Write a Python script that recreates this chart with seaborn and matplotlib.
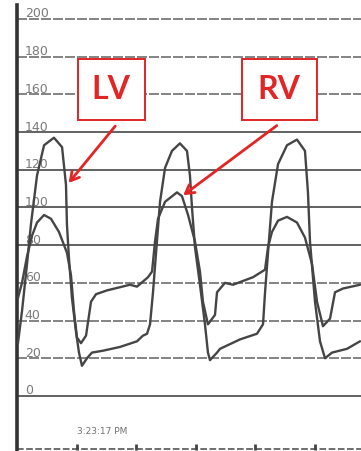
import matplotlib
matplotlib.use("Agg")
import matplotlib.pyplot as plt
import seaborn as sns
import pandas as pd
from matplotlib.patches import Rectangle

# pressure tracing values (time in s, pressure in mmHg)
lv_time = [0.008, 0.042, 0.084, 0.117, 0.168, 0.227, 0.310, 0.378, 0.411, 0.419,
           0.436, 0.461, 0.495, 0.520, 0.545, 0.587, 0.629, 0.721, 0.864, 1.007,
           1.057, 1.091, 1.116, 1.141, 1.174, 1.200, 1.242, 1.300, 1.367, 1.426,
           1.451, 1.468, 1.493, 1.535, 1.577, 1.602, 1.619, 1.678, 1.703, 1.871,
           2.013, 2.064, 2.081, 2.106, 2.139, 2.190, 2.265, 2.349, 2.416, 2.441,
           2.458, 2.500, 2.542, 2.584, 2.643, 2.768, 2.878]
lv_pressure = [28, 45, 70, 91, 117, 133, 137, 132, 112, 91,
               73, 52, 34, 23, 16, 20, 23, 24, 26, 29,
               32, 33, 38, 55, 82, 103, 121, 130, 134, 130,
               117, 100, 79, 59, 38, 23, 19, 23, 25, 30,
               33, 38, 55, 76, 103, 123, 133, 136, 130, 108,
               82, 50, 29, 20, 23, 25, 29]

rv_time = [0.008, 0.042, 0.084, 0.126, 0.168, 0.227, 0.285, 0.352, 0.419, 0.453,
           0.478, 0.503, 0.537, 0.579, 0.621, 0.663, 0.755, 0.948, 1.007, 1.099,
           1.133, 1.158, 1.183, 1.242, 1.342, 1.384, 1.435, 1.493, 1.535, 1.560,
           1.602, 1.661, 1.678, 1.745, 1.812, 1.980, 2.081, 2.106, 2.139, 2.190,
           2.265, 2.349, 2.416, 2.475, 2.517, 2.567, 2.626, 2.668, 2.735, 2.878]
rv_pressure = [52, 60, 74, 85, 92, 96, 94, 87, 76, 64,
               45, 31, 28, 32, 50, 54, 56, 59, 58, 63,
               66, 82, 94, 103, 108, 106, 96, 82, 66, 50,
               38, 43, 55, 60, 59, 63, 67, 79, 87, 93,
               95, 92, 84, 70, 50, 37, 41, 55, 57, 59]

grid_values = [200, 180, 160, 140, 120, 100, 80, 60, 40, 20, 0]
dashed_values = [200, 180, 160, 60, 40, 20]
time_ticks = [0.5, 1.0, 1.5, 2.0, 2.5]
time_label = "3:23:17 PM"

df = pd.concat([
    pd.DataFrame({"time": lv_time, "pressure": lv_pressure, "chamber": "LV"}),
    pd.DataFrame({"time": rv_time, "pressure": rv_pressure, "chamber": "RV"}),
])

sns.set_style("white")
plt.rcParams["font.family"] = ["DejaVu Sans"]

fig = plt.figure(figsize=(3.61, 4.51), dpi=100)
ax = fig.add_axes([17 / 361, 0, 344 / 361, 446 / 451])
ax.set_xlim(0, 2.886)
ax.set_ylim(-29.2, 207.4)

# grid lines of the recorder paper
for v in grid_values:
    if v in dashed_values:
        ax.axhline(v, color="#6e6e6e", lw=1.2, ls=(0, (6, 1.2)), zorder=1)
    else:
        ax.axhline(v, color="#555555", lw=1.3, zorder=1)
    ax.text(0.065, v - 0.8, str(v), fontsize=9, color="#7a7a7a",
            ha="left", va="bottom", zorder=2)

sns.lineplot(data=df, x="time", y="pressure", hue="chamber",
             palette={"LV": "#454545", "RV": "#454545"},
             estimator=None, sort=False, legend=False, lw=1.7, ax=ax, zorder=3)

# time axis at the bottom
ax.axhline(-28, color="#555555", lw=1.2, ls=(0, (4, 1.5)))
ax.plot(time_ticks, [-27.3] * len(time_ticks), ls="none", marker="|",
        ms=5, mew=2, color="#444444")
ax.text(0.503, -19.1, time_label, fontsize=6.5, color="#707070",
        ha="left", va="center")

# red call-out boxes
red = "#e32526"
for name, x0, x1, tx, tail, tip in [
        ("LV", 0.512, 1.074, 0.789, (0.839, 144.3), (0.419, 111.9)),
        ("RV", 1.888, 2.517, 2.195, (2.198, 144.3), (1.376, 105.6))]:
    ax.add_patch(Rectangle((x0, 146.4), x1 - x0, 32.4, fill=True,
                           facecolor="white", edgecolor=red, lw=1.4, zorder=5))
    ax.text(tx, 162.5, name, color=red, fontsize=23, fontweight="bold",
            family="Lato", ha="center", va="center", zorder=6)
    ax.annotate("", xy=tip, xytext=tail,
                arrowprops=dict(arrowstyle="->,head_length=0.6,head_width=0.35",
                                color=red, lw=2), zorder=6)

ax.set_xticks([])
ax.set_yticks([])
ax.set_xlabel("")
ax.set_ylabel("")
for s in ["top", "right", "bottom"]:
    ax.spines[s].set_visible(False)
ax.spines["left"].set_color("#333333")
ax.spines["left"].set_linewidth(2.6)

fig.savefig("out.png", dpi=100)
